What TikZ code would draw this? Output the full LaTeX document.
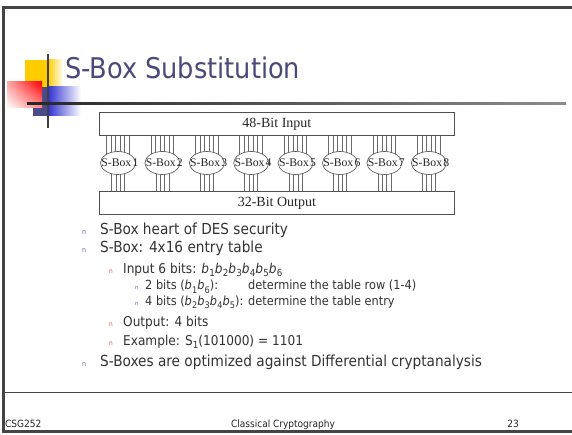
\documentclass[tikz,border=0pt]{standalone}
\usepackage{fontspec}
\setmainfont{DejaVu Sans Condensed}
\newfontfamily\diagserif{Liberation Serif}
\usetikzlibrary{shapes.geometric,shadings}
\pgfdeclarelayer{backdrop}
\pgfdeclarelayer{bg}
\pgfsetlayers{backdrop,bg,main}

\definecolor{titleblue}{RGB}{74,74,122}
\definecolor{bodytext}{RGB}{51,51,51}
\definecolor{framegray}{RGB}{68,68,68}
\definecolor{boxgray}{RGB}{80,80,80}
\definecolor{wiregray}{RGB}{105,105,105}
\definecolor{bulblue}{RGB}{100,100,165}
\definecolor{bulred}{RGB}{225,80,80}
\definecolor{logoyellow}{RGB}{255,204,0}
\definecolor{logored}{RGB}{255,0,0}
\definecolor{logoblue}{RGB}{51,51,210}
\definecolor{logonavy}{RGB}{75,75,140}

\tikzset{
  frameline/.style={draw=framegray, line width=2.5pt},
  busbox/.style={draw=boxgray, line width=0.8pt, minimum width=355pt,
    minimum height=23pt, inner sep=0pt, anchor=north west, text=black!85,
    font=\diagserif\fontsize{14}{14}\selectfont},
  sbox/.style={ellipse, draw=boxgray, fill=white, line width=0.6pt,
    minimum width=35pt, minimum height=23pt, inner sep=0pt},
  sblabel/.style={anchor=west, inner sep=0pt, text=black!85,
    font=\diagserif\fontsize{11.7}{11.7}\selectfont},
  wire/.style={draw=wiregray, line width=0.6pt},
  txtone/.style={anchor=base west, inner sep=0pt, text=bodytext,
    font=\fontsize{15.2}{18}\selectfont},
  txttwo/.style={anchor=base west, inner sep=0pt, text=bodytext,
    font=\fontsize{13.5}{16}\selectfont},
  txtthree/.style={anchor=base west, inner sep=0pt, text=bodytext,
    font=\fontsize{12.6}{14}\selectfont},
  bulone/.style={anchor=base west, inner sep=0pt, text=bulblue,
    font=\fontsize{7}{7}\selectfont},
  bultwo/.style={anchor=base west, inner sep=0pt, text=bulred,
    font=\fontsize{6.5}{7}\selectfont},
  bulthree/.style={anchor=base west, inner sep=0pt, text=bulblue,
    font=\fontsize{5.5}{6}\selectfont},
  foot/.style={inner sep=0pt, text=black!85, font=\fontsize{10}{12}\selectfont},
}

% italic bit name with a lowered index
\newcommand{\bsub}[1]{{\itshape b}\kern0.2pt\raisebox{-0.26em}{\scalebox{0.72}{#1}}}
\newcommand{\lowsub}[1]{\raisebox{-0.26em}{\scalebox{0.72}{#1}}}

\begin{document}
\begin{tikzpicture}[x=1pt,y=-1pt]
\useasboundingbox (0,0) rectangle (572,435);
\begin{pgfonlayer}{backdrop}
\fill[white] (0,0) rectangle (572,435);
\end{pgfonlayer}

% slide frame and footer rule
\draw[frameline] (3.5,7.5) rectangle (600,431.5);
\draw[line width=1.2pt, framegray] (3,392.5) -- (600,392.5);

% title decoration
\fill[logoyellow] (25,60) rectangle (48,87);
\shade[left color=logoyellow, right color=white] (48,60) rectangle (63,87);
\fill[logonavy] (33,87) rectangle (48,116);
\shade[left color=logoblue, right color=white] (48,87) rectangle (81,116);
\shade[upper left=logored!35, upper right=logored, lower left=white,
       lower right=logored!45] (7,82) rectangle (42,108);
\draw[line width=1.5pt, black!75] (48,54) -- (48,128);
\shade[left color=black!85, right color=black!45] (27,102.5) rectangle (566,104.5);

% title
\node[anchor=base west, inner sep=0pt, text=titleblue,
      font=\fontsize{28.5}{30}\selectfont] (title) at (65,79) {S-Box Substitution};

% S-box diagram
\node[busbox] (inbox) at (99,112) {48-Bit Input};
\node[busbox] (outbox) at (99,191) {32-Bit Output};
\foreach \i in {1,...,8}{
  \node[sbox] (sb\i) at ({118+44.4*(\i-1)},163) {};
  \node[sblabel] (sbl\i) at ([xshift=1pt]sb\i.west) {S-Box\kern1.2pt\i};
}
\begin{pgfonlayer}{bg}
\foreach \i in {1,...,8}{
  \foreach \o in {-11.5,-7,-2.5,2,6.5,11}{
    \path ([xshift=\o pt]sb\i.center) coordinate (w);
    \draw[wire] (w) -- (w |- inbox.south);
  }
  \foreach \o in {-6.5,-2.2,2.2,6.5}{
    \path ([xshift=\o pt]sb\i.center) coordinate (w);
    \draw[wire] (w) -- (w |- outbox.north);
  }
}
\end{pgfonlayer}

% bullet list
\node[bulone] (b1) at (82,235) {n};
\node[txtone] (t1) at (100,235) {S-Box heart of DES security};
\node[bulone] (b2) at (82,253) {n};
\node[txtone] (t2) at (100,253) {S-Box: 4x16 entry table};
\node[bultwo] (b3) at (109,273) {n};
\node[txttwo] (t3) at (123,273) {Input 6 bits: \bsub{1}\bsub{2}\bsub{3}\bsub{4}\bsub{5}\bsub{6}};
\node[bulthree] (b4) at (135,290) {n};
\node[txtthree] (t4) at (145,290) {2 bits (\bsub{1}\bsub{6}):};
\node[txtthree] (t4b) at (248,290) {determine the table row (1-4)};
\node[bulthree] (b5) at (135,305) {n};
\node[txtthree] (t5) at (145,305) {4 bits (\bsub{2}\bsub{3}\bsub{4}\bsub{5}):};
\node[txtthree] (t5b) at (248,305) {determine the table entry};
\node[bultwo] (b6) at (109,326) {n};
\node[txttwo] (t6) at (123,326) {Output: 4 bits};
\node[bultwo] (b7) at (109,345) {n};
\node[txttwo] (t7) at (123,345) {Example: S\lowsub{1}(101000) = 1101};
\node[bulone] (b8) at (82,366) {n};
\node[txtone] (t8) at (100,366) {S-Boxes are optimized against Differential cryptanalysis};

% footer
\node[foot, anchor=base west] (f1) at (5,427) {CSG252};
\node[foot, anchor=base] (f2) at (283,427) {Classical Cryptography};
\node[foot, anchor=base east] (f3) at (519,427) {23};
\end{tikzpicture}
\end{document}
